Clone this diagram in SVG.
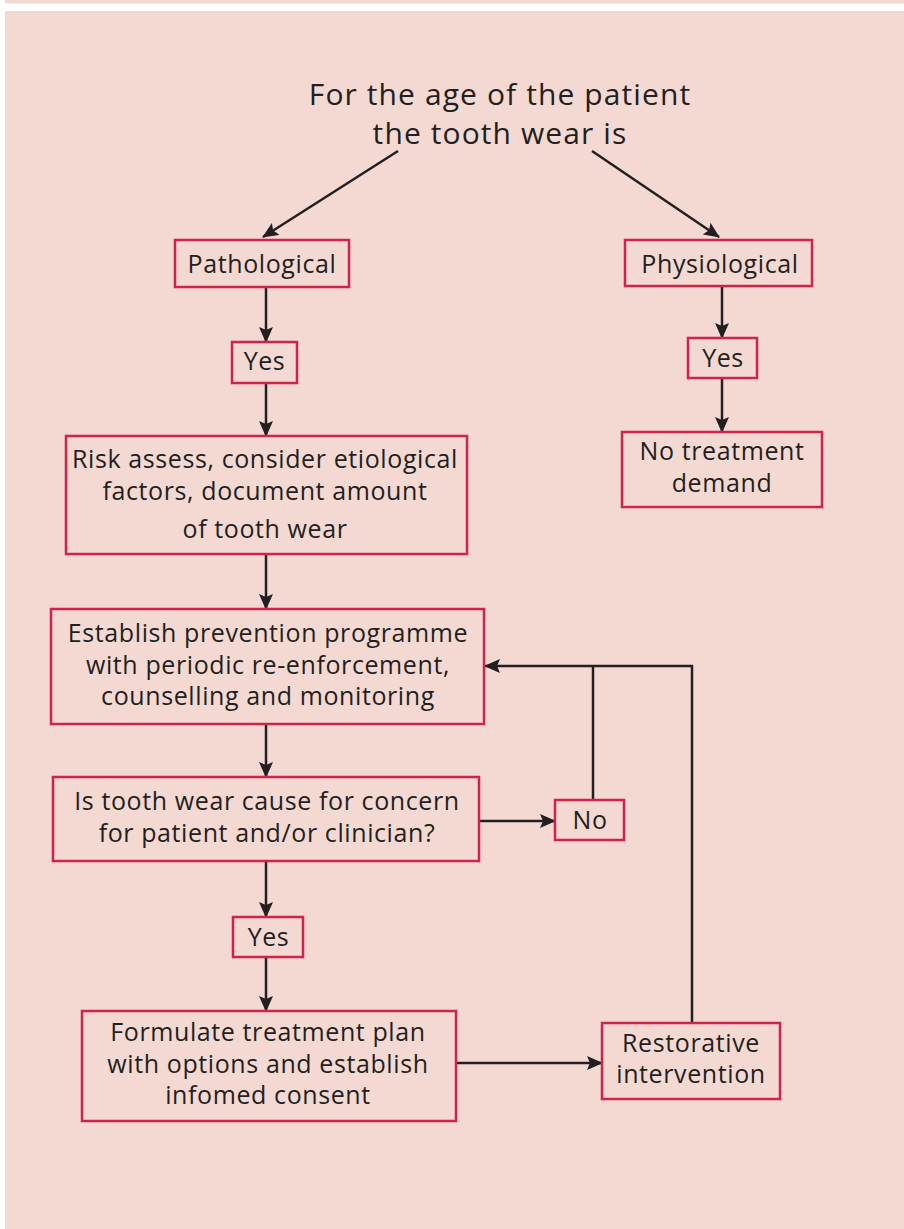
<svg xmlns="http://www.w3.org/2000/svg" width="904" height="1229" viewBox="0 0 904 1229">
<defs>
<marker id="ah" markerUnits="userSpaceOnUse" markerWidth="16" markerHeight="14" refX="15" refY="7" orient="auto">
<path d="M0,0 L16,7 L0,14 L3,7 z" fill="#231f20"/>
</marker>
<style>
.bg{fill:#f4d9d3}
.box{fill:none;stroke:#d0234a;stroke-width:2.5}
.t{font-family:"Open Sans","Noto Sans",sans-serif;font-size:25px;letter-spacing:0.6px;fill:#231f20;text-anchor:middle}
.title{font-size:30px;letter-spacing:1.1px}
.c{fill:none;stroke:#231f20;stroke-width:2.5}
.a{marker-end:url(#ah)}
</style>
</defs>
<rect class="bg" x="5" y="0" width="899" height="3.5"/>
<rect class="bg" x="5" y="11" width="899" height="1218"/>

<g id="title">
<text class="t title" x="500" y="105">For the age of the patient</text>
<text class="t title" x="500" y="144">the tooth wear is</text>
</g>

<g id="connectors">
<line class="c a" x1="398" y1="151" x2="263" y2="237"/>
<line class="c a" x1="592" y1="151" x2="719" y2="237"/>
<line class="c a" x1="266" y1="287" x2="266" y2="342"/>
<line class="c a" x1="266" y1="383" x2="266" y2="436"/>
<line class="c a" x1="266" y1="554" x2="266" y2="609"/>
<line class="c a" x1="266" y1="724" x2="266" y2="777"/>
<line class="c a" x1="266" y1="861" x2="266" y2="917"/>
<line class="c a" x1="266" y1="957" x2="266" y2="1011"/>
<line class="c a" x1="722" y1="286" x2="722" y2="338"/>
<line class="c a" x1="722" y1="378" x2="722" y2="432"/>
<line class="c a" x1="479" y1="821" x2="555" y2="821"/>
<line class="c a" x1="456" y1="1063" x2="602" y2="1063"/>
<polyline class="c" points="593,800 593,666"/>
<polyline class="c a" points="692,1023 692,666 485,666"/>
</g>

<g id="pathological">
<rect class="box" x="175" y="240" width="174" height="47"/>
<text class="t" x="262" y="273">Pathological</text>
</g>
<g id="yes1">
<rect class="box" x="232" y="342" width="65" height="41"/>
<text class="t" x="264.5" y="370">Yes</text>
</g>
<g id="physiological">
<rect class="box" x="625" y="240" width="187" height="46"/>
<text class="t" x="720" y="273">Physiological</text>
</g>
<g id="yes2">
<rect class="box" x="688" y="338" width="69" height="40"/>
<text class="t" x="723" y="367">Yes</text>
</g>
<g id="no-treatment">
<rect class="box" x="622" y="432" width="200" height="75"/>
<text class="t" x="722" y="460">No treatment</text>
<text class="t" x="722" y="492">demand</text>
</g>
<g id="risk">
<rect class="box" x="66" y="436" width="401" height="118"/>
<text class="t" x="265" y="468">Risk assess, consider etiological</text>
<text class="t" x="265" y="500">factors, document amount</text>
<text class="t" x="265" y="538">of tooth wear</text>
</g>
<g id="establish">
<rect class="box" x="51" y="609" width="433" height="115"/>
<text class="t" x="268" y="642">Establish prevention programme</text>
<text class="t" x="268" y="674">with periodic re-enforcement,</text>
<text class="t" x="268" y="705">counselling and monitoring</text>
</g>
<g id="concern">
<rect class="box" x="53" y="777" width="426" height="84"/>
<text class="t" x="267" y="810">Is tooth wear cause for concern</text>
<text class="t" x="267" y="842">for patient and/or clinician?</text>
</g>
<g id="no">
<rect class="box" x="555" y="800" width="69" height="40"/>
<text class="t" x="590" y="829">No</text>
</g>
<g id="yes3">
<rect class="box" x="233" y="917" width="70" height="40"/>
<text class="t" x="268.5" y="946">Yes</text>
</g>
<g id="formulate">
<rect class="box" x="82" y="1011" width="374" height="110"/>
<text class="t" x="268" y="1041">Formulate treatment plan</text>
<text class="t" x="268" y="1073">with options and establish</text>
<text class="t" x="268" y="1104">infomed consent</text>
</g>
<g id="restorative">
<rect class="box" x="602" y="1023" width="178" height="76"/>
<text class="t" x="691" y="1052">Restorative</text>
<text class="t" x="691" y="1083">intervention</text>
</g>
</svg>
